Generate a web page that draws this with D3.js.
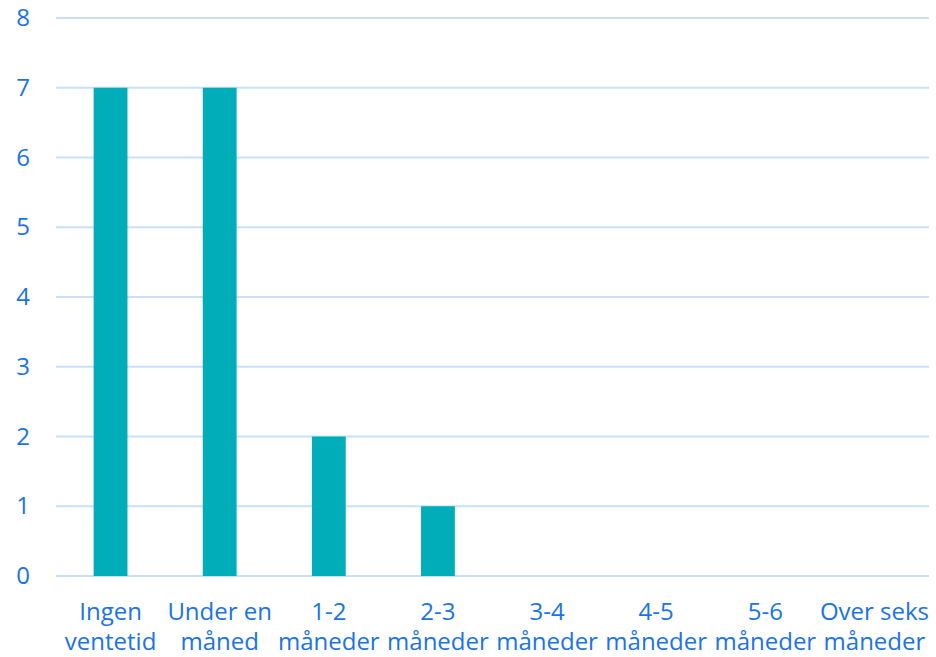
<!DOCTYPE html>
<html>
<head>
<meta charset="utf-8">
<script src="https://cdn.jsdelivr.net/npm/d3@7"></script>
<style>
  body { margin: 0; background: #fff; }
  text { font-family: "Open Sans", sans-serif; }
</style>
</head>
<body>
<div id="chart"></div>
<script>
// Data
let categories = [
    ["Ingen", "ventetid"],
    ["Under en", "måned"],
    ["1-2", "måneder"],
    ["2-3", "måneder"],
    ["3-4", "måneder"],
    ["4-5", "måneder"],
    ["5-6", "måneder"],
    ["Over seks", "måneder"]
];
let values = [7, 7, 2, 1, 0, 0, 0, 0];
let yTicks = [0, 1, 2, 3, 4, 5, 6, 7, 8];

let svgWidth = 936;
let svgHeight = 657;
let margin = { top: 18, right: 7, bottom: 81, left: 56 };
let chartWidth = svgWidth - margin.left - margin.right;
let chartHeight = svgHeight - margin.top - margin.bottom;

let svg = d3.select("#chart")
    .append("svg")
    .attr("width", svgWidth)
    .attr("height", svgHeight);

let chartGroup = svg.append("g")
    .attr("transform", `translate(${margin.left}, ${margin.top})`);

let keys = categories.map(d => d.join(" "));

let xScale = d3.scaleBand()
    .domain(keys)
    .range([0, chartWidth])
    .paddingInner(0.69)
    .paddingOuter(0.345);

let yScale = d3.scaleLinear()
    .domain([0, 8])
    .range([chartHeight, 0]);

// gridlines
chartGroup.selectAll(".grid")
    .data(yTicks)
    .enter()
    .append("line")
    .attr("x1", 0)
    .attr("x2", chartWidth)
    .attr("y1", d => yScale(d))
    .attr("y2", d => yScale(d))
    .attr("stroke", "#c8e0fa")
    .attr("stroke-width", 2);

// y axis labels
let yAxis = d3.axisLeft(yScale).tickValues(yTicks).tickSize(0).tickPadding(26);
let yG = chartGroup.append("g").call(yAxis)
    .attr("font-size", null)
    .attr("font-family", null);
yG.select(".domain").remove();
yG.selectAll("text")
    .attr("font-size", "24px")
    .attr("fill", "#1a73e8");

// bars
chartGroup.selectAll("rect")
    .data(values)
    .enter()
    .append("rect")
    .attr("x", (d, i) => xScale(keys[i]))
    .attr("y", d => yScale(d))
    .attr("width", xScale.bandwidth())
    .attr("height", d => chartHeight - yScale(d))
    .attr("fill", "#00adb9");

// x labels (two lines)
let labels = chartGroup.selectAll(".xlabel")
    .data(categories)
    .enter()
    .append("text")
    .attr("class", "xlabel")
    .attr("text-anchor", "middle")
    .attr("font-size", "24px")
    .attr("fill", "#1a73e8")
    .attr("transform", (d, i) => `translate(${xScale(keys[i]) + xScale.bandwidth() / 2}, ${chartHeight + 44})`);

labels.append("tspan")
    .attr("x", 0)
    .attr("y", 0)
    .text(d => d[0]);

labels.append("tspan")
    .attr("x", 0)
    .attr("y", 30)
    .text(d => d[1]);
</script>
</body>
</html>
